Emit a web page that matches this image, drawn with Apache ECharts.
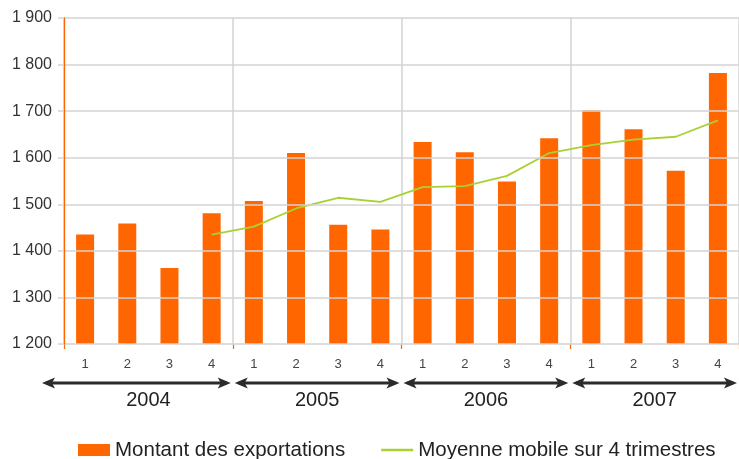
<!DOCTYPE html>
<html>
<head>
<meta charset="utf-8">
<script src="https://cdn.jsdelivr.net/npm/echarts@6/dist/echarts.min.js"></script>
<style>html,body{margin:0;padding:0;background:#fff;}#c{width:739px;height:459px;}</style>
</head>
<body>
<div id="c"></div>
<script>
var quarters = ['1','2','3','4','1','2','3','4','1','2','3','4','1','2','3','4'];
var years = ['2004','2005','2006','2007'];
var exportations = [1435,1459,1363,1481,1507,1610,1456,1446,1634,1612,1549,1642,1702,1661,1572,1782];
var moyenneMobile = ['-','-','-',1435,1452,1491,1514,1505,1537,1539,1561,1610,1627,1639,1645,1680];
var yTicks = [1200,1300,1400,1500,1600,1700,1800,1900];
var serieNames = ['Montant des exportations','Moyenne mobile sur 4 trimestres'];

var FONT = '"Liberation Sans", Arial, sans-serif';
var GRID = '#d3d3d3';
var chart = echarts.init(document.getElementById('c'), null, {renderer:'canvas'});

function fmt(v){ return String(v).replace(/\B(?=(\d{3})+(?!\d))/g, ' '); }

var option = {
  animation: false,
  backgroundColor: '#ffffff',
  textStyle: {fontFamily: FONT},
  grid: {left: 64, top: 18, width: 679, height: 326, containLabel: false},
  legend: {
    left: 73, top: 434,
    itemWidth: 32, itemHeight: 12, itemGap: 36,
    textStyle: {fontFamily: FONT, fontSize: 20.5, color: '#222', lineHeight: 22},
    data: [
      {name: serieNames[0], icon: 'rect'},
      {name: serieNames[1], icon: 'path://M0 0H40V3H0Z'}
    ]
  },
  xAxis: [
    {
      type: 'category', data: quarters, position: 'bottom',
      axisLine: {show: false}, axisTick: {show: false}, splitLine: {show: false},
      axisLabel: {margin: 14, fontSize: 13, color: '#444', fontFamily: FONT}
    },
    {
      type: 'category', data: years, position: 'bottom', boundaryGap: true, z: 2,
      axisLine: {show: false},
      axisTick: {show: true, length: 5, lineStyle: {color: '#ff6600', width: 1.2}},
      splitLine: {show: true, lineStyle: {color: GRID, width: 1.5}},
      axisLabel: {margin: 46, fontSize: 20, color: '#222', fontFamily: FONT}
    }
  ],
  yAxis: {
    type: 'value', min: yTicks[0], max: yTicks[yTicks.length-1], interval: 100, z: 8,
    axisLine: {show: true, lineStyle: {color: '#ff6600', width: 1.3}},
    axisTick: {show: true, length: 6, lineStyle: {color: GRID, width: 1.5}},
    splitLine: {show: true, lineStyle: {color: GRID, width: 1.5}},
    axisLabel: {formatter: fmt, fontSize: 16, color: '#333', margin: 12, fontFamily: FONT}
  },
  series: [
    {
      name: serieNames[0], type: 'bar', xAxisIndex: 0, data: exportations,
      barWidth: 18, z: 3,
      itemStyle: {color: '#ff6600'}
    },
    {
      name: serieNames[1], type: 'line', xAxisIndex: 0, data: moyenneMobile,
      symbol: 'none', showSymbol: false,
      lineStyle: {color: '#a9d134', width: 1.8},
      itemStyle: {color: '#a9d134'}, z: 4
    },
    {
      name: 'arrows', type: 'custom', xAxisIndex: 1, yAxisIndex: 0, silent: true, clip: false,
      data: years.map(function(y, i){ return [i, yTicks[0]]; }),
      renderItem: function(params, api){
        var c = api.coord([api.value(0), api.value(1)]);
        var w = api.size([1, 0])[0];
        var x0 = c[0] - w/2 + 2, x1 = c[0] + w/2 - 2;
        if (params.dataIndex === 0) x0 -= 24;
        var y = c[1] + 39;
        var L = 13, H = 5.5;
        var col = '#2b2b2b';
        return {
          type: 'group',
          children: [
            {type: 'line', shape: {x1: x0 + 4, y1: y, x2: x1 - 4, y2: y}, style: {stroke: col, lineWidth: 3}},
            {type: 'polygon', shape: {points: [[x0, y], [x0 + L, y - H], [x0 + L - 3, y], [x0 + L, y + H]]}, style: {fill: col}},
            {type: 'polygon', shape: {points: [[x1, y], [x1 - L, y - H], [x1 - L + 3, y], [x1 - L, y + H]]}, style: {fill: col}}
          ]
        };
      }
    }
  ]
};
chart.setOption(option);
</script>
</body>
</html>
